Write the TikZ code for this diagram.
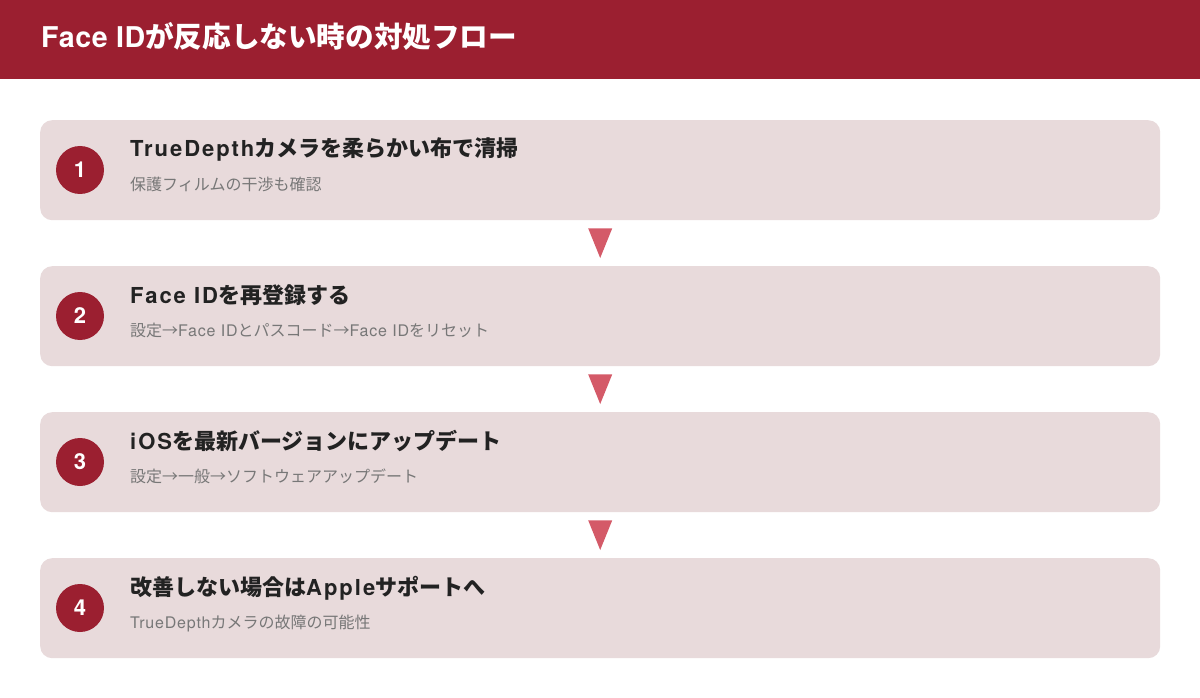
\documentclass[tikz,border=0pt]{standalone}
\usepackage{fontspec}
\setmainfont{Noto Sans CJK JP}
\newfontfamily\latHfam{TeX Gyre Heros}[LetterSpace=2]
\newfontfamily\latBfam{TeX Gyre Heros}[LetterSpace=9]
\newfontfamily\latRfam{TeX Gyre Heros}[LetterSpace=5]
\newcommand\latH[1]{{\latHfam #1}}
\newcommand\latB[1]{{\latBfam #1}}
\newcommand\latR[1]{{\latRfam #1}}
\usetikzlibrary{calc}
\definecolor{headred}{HTML}{9B1F30}
\definecolor{boxfill}{HTML}{E8DADB}
\definecolor{arrowc}{HTML}{D45A68}
\definecolor{titlec}{HTML}{222222}
\definecolor{subc}{HTML}{777777}
\tikzset{
  stepbox/.style={rectangle, rounded corners=12pt, fill=boxfill, minimum width=1120pt, minimum height=100pt, inner sep=0pt, anchor=north west},
  numcirc/.style={circle, fill=headred, minimum size=48pt, inner sep=0pt, text=white, font=\fontsize{22pt}{24pt}\selectfont\bfseries\latHfam},
  steptitle/.style={anchor=base west, inner sep=0pt, text=titlec, font=\fontsize{22pt}{24pt}\selectfont\bfseries},
  stepsub/.style={anchor=base west, inner sep=0pt, text=subc, font=\fontsize{16pt}{18pt}\selectfont},
  headtitle/.style={anchor=base west, inner sep=0pt, text=white, font=\fontsize{28.6pt}{30pt}\selectfont\bfseries},
  downtri/.style={fill=arrowc},
}
\begin{document}
\begin{tikzpicture}[x=1pt,y=-1pt]
\useasboundingbox (0,0) rectangle (1200,698);
\fill[white] (0,0) rectangle (1200,698);
\fill[headred] (0,0) rectangle (1200,79);
\node[headtitle] (head) at (41,48) {\latH{Face ID}が反応しない時の対処フロー};

\foreach \i/\y/\t/\s in {
  1/120/{\latB{TrueDepth}カメラを柔らかい布で清掃}/{保護フィルムの干渉も確認},
  2/266/{\latB{Face ID}を再登録する}/{設定→\latR{Face ID}とパスコード→\latR{Face ID}をリセット},
  3/412/{\latB{iOS}を最新バージョンにアップデート}/{設定→一般→ソフトウェアアップデート},
  4/558/{改善しない場合は\latB{Apple}サポートへ}/{\latR{TrueDepth}カメラの故障の可能性}} {
  \node[stepbox] (box\i) at (40,\y) {};
  \node[numcirc] (num\i) at (80,\y+50) {\i};
  \node[steptitle] (title\i) at (130,\y+37) {\t};
  \node[stepsub] (sub\i) at (130,\y+70) {\s};
}

\foreach \a/\b in {1/2,2/3,3/4} {
  \fill[downtri] ($(box\a.south)+(-12,8)$) -- ($(box\a.south)+(12,8)$) -- ($(box\b.north)+(0,-8)$) -- cycle;
}
\end{tikzpicture}
\end{document}
